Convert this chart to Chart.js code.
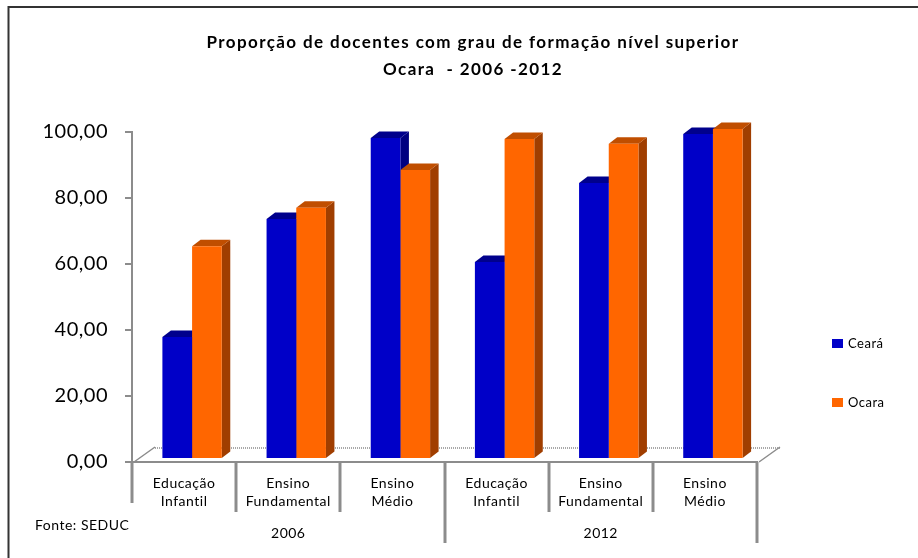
<!DOCTYPE html>
<html><head><meta charset="utf-8">
<script src="https://cdn.jsdelivr.net/npm/chart.js@4"></script>
<style>html,body{margin:0;padding:0;background:#fff}#wrap{width:918px;height:558px;position:relative}</style>
</head><body><div id="wrap"><canvas id="c" width="918" height="558"></canvas></div>
<script>
const categories = [['Educação','Infantil'],['Ensino','Fundamental'],['Ensino','Médio'],['Educação','Infantil'],['Ensino','Fundamental'],['Ensino','Médio']];
const years = ['2006', '2012'];
const seriesNames = ['Ceará', 'Ocara'];
const cearaValues = [37.0, 72.7, 97.3, 59.7, 83.6, 98.5];
const ocaraValues = [64.5, 76.1, 87.6, 97.0, 95.5, 100.0];
const yTickValues = [0, 20, 40, 60, 80, 100];
const titleLines = ['Proporção de docentes com grau de formação nível superior', 'Ocara  - 2006 -2012'];
const sourceNote = 'Fonte: SEDUC';

const FONT = 'Lato, "Open Sans", sans-serif';
const frontColors = ['#0000C8', '#FF6600'];
const topColors = ['#00008C', '#C04E00'];
const sideColors = ['#000080', '#A03E00'];
const AXIS = '#8C8C8C';
const DX = 8.5, DY = -6.5;      // bar depth
const SHIFT_X = 8, SHIFT_Y = -3; // perspective offset of bars
const FLOOR_DX = 23, FLOOR_DY = -15;

const decorPlugin = {
  id: 'decor',
  beforeDraw(chart) {
    const ctx = chart.ctx;
    ctx.letterSpacing = '0.5px';
    ctx.save();
    ctx.fillStyle = '#fff';
    ctx.fillRect(0, 0, chart.width, chart.height);
    ctx.strokeStyle = '#333';
    ctx.lineWidth = 2;
    ctx.beginPath();
    ctx.moveTo(8.5, chart.height);
    ctx.lineTo(8.5, 7);
    ctx.lineTo(chart.width, 7);
    ctx.stroke();
    // title
    ctx.fillStyle = '#000';
    ctx.font = 'bold 17px ' + FONT;
    ctx.letterSpacing = '1.4px';
    ctx.textAlign = 'center';
    ctx.textBaseline = 'middle';
    titleLines.forEach((t, i) => ctx.fillText(t, 473, 43 + i * 27));
    ctx.restore();
  },
  beforeDatasetsDraw(chart) {
    const ctx = chart.ctx;
    const a = chart.chartArea;
    // floor
    ctx.save();
    ctx.strokeStyle = '#A8A8A8';
    ctx.lineWidth = 1;
    ctx.setLineDash([1, 1]);
    ctx.beginPath();
    ctx.moveTo(a.left + FLOOR_DX, a.bottom + FLOOR_DY + 0.5);
    ctx.lineTo(a.right + FLOOR_DX, a.bottom + FLOOR_DY + 0.5);
    ctx.moveTo(a.left + FLOOR_DX, a.bottom + FLOOR_DY + 1.5);
    ctx.lineTo(a.right + FLOOR_DX, a.bottom + FLOOR_DY + 1.5);
    ctx.stroke();
    ctx.setLineDash([]);
    ctx.strokeStyle = AXIS;
    ctx.lineWidth = 1.5;
    ctx.beginPath();
    ctx.moveTo(a.left + 2, a.bottom);
    ctx.lineTo(a.left + FLOOR_DX, a.bottom + FLOOR_DY);
    ctx.moveTo(a.right + 2, a.bottom);
    ctx.lineTo(a.right + FLOOR_DX, a.bottom + FLOOR_DY);
    ctx.stroke();
    ctx.restore();

    ctx.save();
    ctx.translate(SHIFT_X, SHIFT_Y);
    const n = chart.data.labels.length;
    for (let i = 0; i < n; i++) {
      for (let d = 0; d < chart.data.datasets.length; d++) {
        const el = chart.getDatasetMeta(d).data[i];
        const l = el.x - el.width / 2, r = el.x + el.width / 2, t = el.y, b = el.base;
        ctx.fillStyle = sideColors[d];
        ctx.beginPath();
        ctx.moveTo(r, t); ctx.lineTo(r + DX, t + DY); ctx.lineTo(r + DX, b + DY); ctx.lineTo(r, b);
        ctx.closePath(); ctx.fill();
        ctx.fillStyle = topColors[d];
        ctx.beginPath();
        ctx.moveTo(l, t); ctx.lineTo(l + DX, t + DY); ctx.lineTo(r + DX, t + DY); ctx.lineTo(r, t);
        ctx.closePath(); ctx.fill();
      }
    }
  },
  afterDatasetsDraw(chart) {
    chart.ctx.restore();
  },
  afterDraw(chart) {
    const ctx = chart.ctx;
    const a = chart.chartArea;
    const n = chart.data.labels.length;
    const cw = (a.right - a.left) / n;
    ctx.save();
    ctx.strokeStyle = AXIS;
    ctx.lineWidth = 3;
    for (let i = 0; i <= n; i++) {
      const x = Math.round(a.left + i * cw);
      let end = a.bottom + 50;
      if (i % 3 === 0) end = a.bottom + 81;
      if (i === 0) end = a.bottom + 41;
      ctx.beginPath();
      ctx.moveTo(x, a.bottom);
      ctx.lineTo(x, end);
      ctx.stroke();
    }
    ctx.fillStyle = '#000';
    ctx.font = '14px ' + FONT;
    ctx.textAlign = 'center';
    ctx.textBaseline = 'middle';
    years.forEach((y, g) => {
      const cx = a.left + (g * 3 + 1.5) * cw;
      ctx.fillText(y, cx, a.bottom + 71);
    });
    ctx.textAlign = 'left';
    ctx.fillText(sourceNote, 35, 525);
    // legend
    ctx.font = '13px ' + FONT;
    chart.data.datasets.forEach((ds, d) => {
      const y = 339 + d * 59;
      ctx.fillStyle = ds.backgroundColor;
      ctx.fillRect(832, y, 11, 9);
      ctx.fillStyle = '#000';
      ctx.fillText(ds.label, 848, y + 5);
    });
    ctx.restore();
  }
};

new Chart(document.getElementById('c'), {
  type: 'bar',
  data: {
    labels: categories,
    datasets: [
      { label: seriesNames[0], data: cearaValues, backgroundColor: frontColors[0] },
      { label: seriesNames[1], data: ocaraValues, backgroundColor: frontColors[1] }
    ]
  },
  options: {
    responsive: false,
    animation: false,
    devicePixelRatio: 1,
    layout: { padding: { left: 0, right: 161, top: 132, bottom: 0 } },
    datasets: { bar: { categoryPercentage: 0.57, barPercentage: 1.0 } },
    plugins: {
      legend: { display: false },
      tooltip: { enabled: false },
      title: { display: false }
    },
    scales: {
      x: {
        grid: { display: false, drawTicks: false },
        border: { display: true, color: AXIS, width: 2 },
        ticks: { color: '#000', font: { family: FONT, size: 14, lineHeight: 1.25 }, padding: 13, maxRotation: 0, autoSkip: false },
        afterFit(s) { s.height = 96; }
      },
      y: {
        min: 0, max: 100,
        afterBuildTicks(s) { s.ticks = yTickValues.map(v => ({ value: v })); },
        grid: { drawOnChartArea: false, drawTicks: true, tickLength: 7, color: AXIS, lineWidth: 2 },
        border: { display: true, color: AXIS, width: 2 },
        ticks: {
          color: '#000', padding: 17,
          font: { family: FONT, size: 20 },
          callback: v => Number(v).toFixed(2).replace('.', ',')
        },
        afterFit(s) { s.width = 132; }
      }
    }
  },
  plugins: [decorPlugin]
});
</script></body></html>
